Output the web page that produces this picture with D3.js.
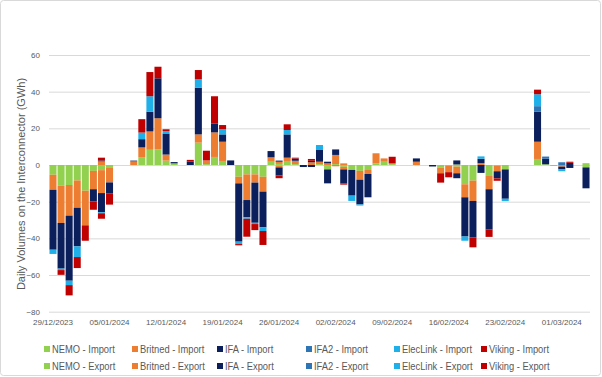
<!DOCTYPE html>
<html>
<head>
<meta charset="utf-8">
<script src="https://cdn.jsdelivr.net/npm/d3@7/dist/d3.min.js"></script>
<style>
  html, body { margin: 0; padding: 0; background: #fff; }
  svg text { font-family: "Liberation Sans", Arial, sans-serif; fill: #595959; }
</style>
</head>
<body>
<div id="chart"></div>
<script>
// Daily interconnector volumes (GWh), 29/12/2023 - 04/03/2024
// positive = import, negative = export
const tickLabels = ['29/12/2023', '05/01/2024', '12/01/2024', '19/01/2024', '26/01/2024',
    '02/02/2024', '09/02/2024', '16/02/2024', '23/02/2024', '01/03/2024'];
const yTicks = [60, 40, 20, 0, -20, -40, -60, -80];

const nemoImport = [
    0, 0, 0, 0, 0, 0, 0, 0, 0, 0,
    0, 4.3, 8.3, 8.5, 2.4, 0.9, 0, 0, 12.2, 0.5,
    4.4, 2.2, 0, 0, 0, 0, 0, 1.8, 0.6, 2.2,
    0.5, 0, 0, 0.5, 0, 0.5, 0, 0, 0, 0,
    0.9, 1.8, 0.5, 0, 0, 0, 0, 0, 0, 0,
    0.3, 0, 0, 0, 0, 0, 0, 0, 0, 0,
    3.3, 0.4, 0, 0, 0, 0, 1.0];
const britnedImport = [
    0, 0, 0, 0, 0, 0, 2.0, 0, 0, 0,
    2.0, 5.3, 10, 17, 3.3, 0, 0, 0, 4.5, 2.0,
    13.4, 10.5, 0, 0, 0, 0, 0, 2.4, 1.2, 1.8,
    1.8, 0, 1.5, 1.3, 0.9, 5.0, 0.9, 0, 0, 0,
    5.5, 1.8, 0.4, 0, 0, 1.8, 0, 0, 0, 0,
    0, 0, 0, 1.0, 0, 0, 0, 0, 0, 0,
    9.4, 0, 0, 0, 0, 0, 0];
const ifaImport = [
    0, 0, 0, 0, 0, 0, 0.5, 0, 0, 0,
    0.4, 4.5, 10.8, 21.8, 11.5, 0.7, 0, 1.8, 25.5, 0,
    4.9, 4.0, 2.5, 0, 0, 0, 0, 3.4, 0.6, 12.7,
    1.2, 0, 0.8, 6.4, 0.9, 3.0, 0, 0, 0, 0,
    0, 0, 0, 0, 0, 1.8, 0, 0, 0, 0,
    2.2, 0, 0, 2.4, 0, 0, 0, 0, 0, 0,
    16.4, 3.0, 0, 0, 1.2, 0, 0];
const ifa2Import = [
    0, 0, 0, 0, 0, 0, 0, 0, 0, 0,
    0, 0, 0, 0, 0, 0, 0, 0, 0, 0,
    0, 0, 0, 0, 0, 0, 0, 0, 0, 0,
    0, 0, 0, 0, 0, 0, 0, 0, 0, 0,
    0, 0, 0, 0, 0, 0, 0, 0, 0, 0,
    0, 0, 0, 0, 0, 0, 0, 0, 0, 0,
    3.0, 1.2, 0, 1.5, 0, 0, 0];
const elecLinkImport = [
    0, 0, 0, 0, 0, 0, 0, 0, 0, 0,
    0, 3.6, 8.4, 0, 1.3, 0, 0, 0, 4.7, 0,
    0, 2.9, 0, 0, 0, 0, 0, 0, 0, 2.4,
    0, 0, 0, 2.7, 0, 0, 0, 0, 0, 0,
    0, 0, 0, 0, 0, 0, 0, 0, 0, 0,
    0, 0, 0, 1.3, 0, 0, 0, 0, 0, 0,
    6.5, 0, 0, 0, 0, 0, 0];
const vikingImport = [
    0, 0, 0, 0, 0, 0, 1.5, 0, 0, 0,
    0, 7.3, 13.2, 6.3, 1.0, 0, 0, 1.0, 4.9, 5.3,
    14.8, 2.2, 0, 0, 0, 0, 0, 0, 0, 3.1,
    0.5, 0, 1.0, 0, 0, 0, 0, 0, 0, 0,
    0, 0, 3.6, 0, 0, 0, 0, 0, 0, 0,
    0, 0, 0, 0, 0, 0, 0, 0, 0, 0,
    2.5, 0, 0, 0, 0.6, 0, 0];

const nemoExport = [
    -5.3, -11.3, -10.9, -8.4, -14, -3.2, -2.8, -1.6, 0, 0,
    0, 0, 0, 0, 0, 0, 0, 0, 0, 0,
    0, 0, 0, -6.4, -5.1, -5.1, -6.4, 0, -0.5, 0,
    0, 0, 0, 0, -2.4, 0, -1.0, -2.7, -3.2, -2.7,
    0, 0, 0, 0, 0, 0, 0, 0, -1.5, -0.5,
    -0.9, -10.5, -8.5, 0, -6.0, -0.4, -2.4, 0, 0, 0,
    0, 0, 0, 0, 0, 0, -1.3];
const britnedExport = [
    -8.2, -20.3, -16.7, -14.9, -18.9, -10, -12.5, -7.9, 0, 0,
    0, 0, 0, 0, 0, 0, 0, 0, 0, 0,
    0, 0, 0, -3.6, -14, -4.5, -8.1, 0, -0.8, 0,
    0, 0, 0, 0, 0, -0.7, -1.4, 0, -4.8, -2.2,
    0, 0, 0, 0, 0, 0, 0, 0, -3.0, -3.4,
    -3.6, -7.1, -11.1, 0, -7.2, -3.0, 0, 0, 0, 0,
    0, 0, 0, -0.9, 0, 0, 0];
const ifaExport = [
    -32.7, -24.9, -35.5, -21.1, 0, -6.7, -10.5, -6.1, 0, 0,
    0, 0, 0, 0, 0, 0, 0, 0, 0, 0,
    0, 0, 0, -31.8, -9.4, -21.9, -19.5, 0, -4.4, 0,
    0, -1.1, -1.1, 0, -7.6, 0, -7.6, -14, -13.5, -12.7,
    0, 0, 0, 0, 0, 0, 0, -0.8, 0, 0,
    -2.7, -21.4, -19.9, -4.3, -22, -3.9, -16, 0, 0, 0,
    0, 0, 0, -1.5, -1.6, 0, -11.4];
const ifa2Export = [
    0, 0, 0, 0, 0, 0, 0, 0, 0, 0,
    0, 0, 0, 0, 0, 0, 0, 0, 0, 0,
    0, 0, 0, 0, 0, 0, 0, 0, 0, 0,
    0, 0, 0, 0, 0, 0, 0, 0, 0, 0,
    0, 0, 0, 0, 0, 0, 0, 0, 0, 0,
    0, 0, 0, 0, 0, 0, 0, 0, 0, 0,
    0, 0, 0, 0, 0, 0, 0];
const elecLinkExport = [
    -2.3, -0.8, -2.4, -5.8, 0, 0, -0.5, 0, 0, 0,
    0, 0, 0, 0, 0, 0, 0, 0, 0, 0,
    0, 0, 0, -1.3, -0.8, -0.7, -2.0, 0, 0, 0,
    0, 0, 0, 0, 0, 0, 0, -2.9, -0.6, 0,
    0, 0, 0, 0, 0, 0, 0, 0, 0, 0,
    0, -2.3, 0, 0, 0, 0, -1.3, 0, 0, 0,
    0, 0, -0.3, -1.0, 0, 0, 0];
const vikingExport = [
    0, -2.6, -5.6, -6.0, -8.4, -4.5, -3.0, -6.0, 0, 0,
    0, 0, 0, 0, 0, 0, 0, 0, 0, 0,
    0, 0, 0, -0.7, -9.8, -3.3, -7.6, 0, -1.5, 0,
    0, 0, 0, 0, 0, 0, -0.7, 0, 0, 0,
    0, 0, 0, 0, 0, 0, 0, 0, -5.1, -2.8,
    0, 0, -5.4, 0, -4.0, -1.3, 0, 0, 0, 0,
    0, 0, 0, 0, 0, 0, 0];

const seriesNames = ['NEMO - Import', 'Britned - Import', 'IFA - Import', 'IFA2 - Import', 'ElecLink - Import', 'Viking - Import',
    'NEMO - Export', 'Britned - Export', 'IFA - Export', 'IFA2 - Export', 'ElecLink - Export', 'Viking - Export'];
const seriesValues = [nemoImport, britnedImport, ifaImport, ifa2Import, elecLinkImport, vikingImport,
    nemoExport, britnedExport, ifaExport, ifa2Export, elecLinkExport, vikingExport];
const palette = ['#92D050', '#ED7D31', '#0B1F5C', '#2E75B6', '#1FB0EA', '#C00000'];

// ---- layout ----
const W = 602, H = 377;
const plot = { left: 49, right: 590, top: 55, bottom: 311.7 };

const fmt = d3.timeFormat('%d/%m/%Y');
const days = d3.timeDay.range(new Date(2023, 11, 29), new Date(2024, 2, 5)).map(fmt);

// build table for d3.stack
const table = days.map((day, i) => {
    const row = { day };
    seriesNames.forEach((name, s) => { row[name] = seriesValues[s][i]; });
    return row;
});

const stacked = d3.stack()
    .keys(seriesNames)
    .offset(d3.stackOffsetDiverging)(table);

const x = d3.scaleBand()
    .domain(days)
    .range([plot.left, plot.right])
    .paddingInner(0.13)
    .paddingOuter(0.06);

const y = d3.scaleLinear()
    .domain([-80, 60])
    .range([plot.bottom, plot.top]);

const color = d3.scaleOrdinal()
    .domain(seriesNames)
    .range(palette.concat(palette));

const svg = d3.select('#chart')
    .append('svg')
    .attr('width', W)
    .attr('height', H);

// outer frame
svg.append('rect')
    .attr('x', 0.5).attr('y', 0.5)
    .attr('width', W - 2).attr('height', H - 2)
    .attr('rx', 3)
    .attr('fill', '#fff')
    .attr('stroke', '#d9d9d9');

// gridlines
svg.append('g')
    .attr('transform', `translate(${plot.left},0)`)
    .call(d3.axisLeft(y).tickValues(yTicks).tickSize(-(plot.right - plot.left)).tickFormat(''))
    .call(g => g.select('.domain').remove())
    .call(g => g.selectAll('line').attr('stroke', '#d9d9d9'));

// y axis labels
svg.append('g')
    .attr('transform', `translate(${plot.left},0)`)
    .call(d3.axisLeft(y).tickValues(yTicks).tickSize(0).tickPadding(9))
    .call(g => g.select('.domain').remove())
    .call(g => g.selectAll('text')
        .style('font-size', '8px')
        .attr('fill', '#595959'));

// x axis labels
svg.append('g')
    .attr('transform', `translate(0,${plot.bottom})`)
    .call(d3.axisBottom(x)
        .tickValues(days.filter(d => tickLabels.includes(d)))
        .tickSize(0)
        .tickPadding(8))
    .call(g => g.select('.domain').remove())
    .call(g => g.selectAll('text')
        .style('font-size', '8px')
        .attr('fill', '#595959'));

// stacked bars
const layers = svg.selectAll('.layer')
    .data(stacked)
    .enter()
    .append('g')
    .attr('class', 'layer')
    .attr('fill', d => color(d.key));

layers.selectAll('rect')
    .data(d => d.filter(p => p[1] !== p[0]))
    .enter()
    .append('rect')
    .attr('x', d => x(d.data.day))
    .attr('width', x.bandwidth())
    .attr('y', d => y(Math.max(d[0], d[1])))
    .attr('height', d => Math.abs(y(d[0]) - y(d[1])));

// y axis title
svg.append('text')
    .attr('transform', 'rotate(-90)')
    .attr('x', -184)
    .attr('y', 25)
    .attr('text-anchor', 'middle')
    .style('font-size', '11px')
    .text('Daily Volumes on the Interconnector (GWh)');

// legend: two rows, imports then exports
const legendCols = [44, 132, 217, 306, 394, 481];
const legendRows = [349, 366];
const legend = svg.append('g').attr('class', 'legend');

seriesNames.forEach((name, i) => {
    const item = legend.append('g')
        .attr('transform', `translate(${legendCols[i % 6]},${legendRows[Math.floor(i / 6)]})`);
    item.append('rect')
        .attr('x', 0)
        .attr('y', -3)
        .attr('width', 6)
        .attr('height', 6)
        .attr('fill', color(name));
    // squeeze horizontally, the original uses a narrow face
    item.append('text')
        .attr('transform', 'translate(8,4) scale(0.85,1)')
        .style('font-size', '11px')
        .text(name);
});
</script>
</body>
</html>
